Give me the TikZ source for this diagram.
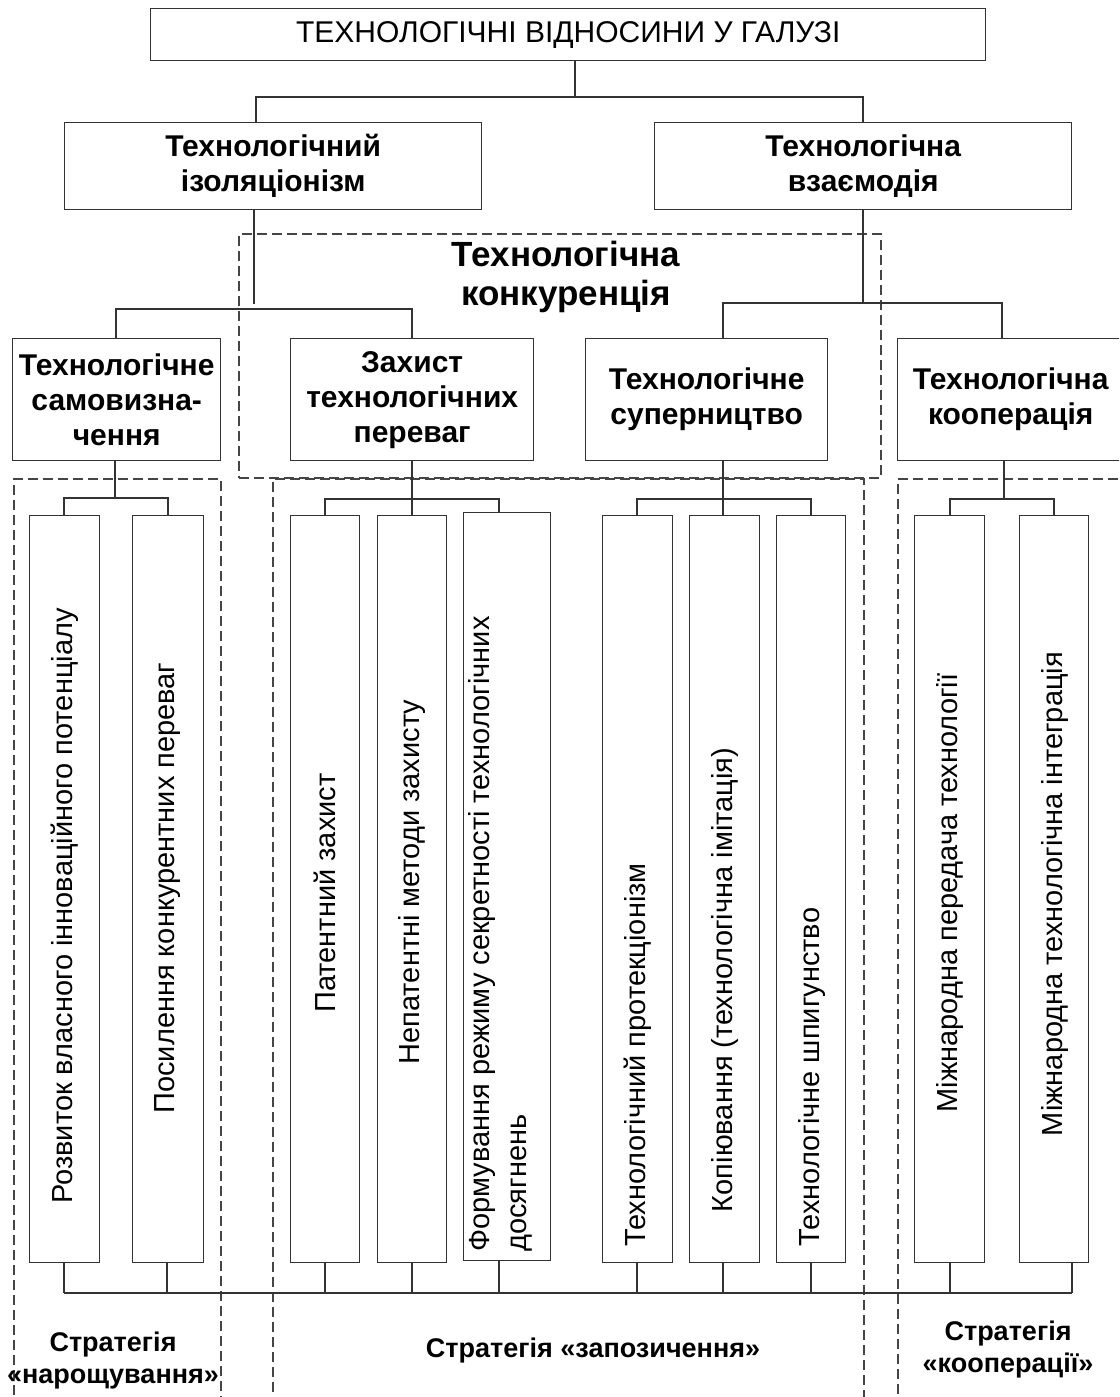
\documentclass[tikz,border=0pt]{standalone}
\usepackage{fontspec}
\setmainfont{Liberation Sans}
\usetikzlibrary{calc}
\definecolor{ln}{HTML}{333333}
\definecolor{dl}{HTML}{454545}
\begin{document}
\begin{tikzpicture}[x=1pt,y=-1pt,
  conn/.style={draw=ln, line width=1.4pt},
  boxnode/.style={draw=ln, line width=1.4pt, anchor=north west, inner sep=0pt, align=center, text=black},
  grp/.style={draw=dl, line width=2pt, dash pattern=on 10pt off 5pt, anchor=north west, inner sep=0pt},
  vtext/.style={rotate=90, inner sep=0pt, align=left, font=\fontsize{29}{37}\selectfont},
  ttl/.style={font=\fontsize{30}{34}\selectfont},
  lvtwo/.style={font=\bfseries\fontsize{30}{35}\selectfont},
  lvthree/.style={font=\bfseries\fontsize{30}{35}\selectfont},
  strat/.style={font=\bfseries\fontsize{27}{32}\selectfont, align=center, inner sep=0pt}
]
\useasboundingbox (0,0) rectangle (1119,1397);
\clip (0,0) rectangle (1119,1397);

% dashed groups
\node[grp, minimum width=642pt, minimum height=244pt] (gK) at (238,233) {};
\node[grp, minimum width=207pt, minimum height=960pt] (gN) at (13,478) {};
\node[grp, minimum width=591pt, minimum height=960pt] (gZ) at (272,478) {};
\node[grp, minimum width=260pt, minimum height=960pt] (gC) at (897,478) {};

\node[font=\bfseries\fontsize{35}{39}\selectfont, align=center, inner sep=0pt] (konk) at (566,277) {Технологічна\\конкуренція};

% level 1
\node[boxnode, ttl, minimum width=835pt, minimum height=52pt] (top) at (150,8) {ТЕХНОЛОГІЧНІ ВІДНОСИНИ У ГАЛУЗІ};

% level 2
\node[boxnode, lvtwo, minimum width=417pt, minimum height=87pt] (iso) at (64,122) {Технологічний\\ізоляціонізм};
\node[boxnode, lvtwo, minimum width=417pt, minimum height=87pt] (vz) at (654,122) {Технологічна\\взаємодія};

% level 3
\node[boxnode, lvthree, minimum width=208pt, minimum height=122pt] (A) at (12,338) {Технологічне\\самовизна-\\чення};
\node[boxnode, lvthree, minimum width=243pt, minimum height=122pt] (B) at (290,338) {Захист\\технологічних\\переваг};
\node[boxnode, lvthree, minimum width=242pt, minimum height=122pt] (C) at (585,338) {Технологічне\\суперництво};
\node[boxnode, lvthree, minimum width=226pt, minimum height=122pt] (D) at (897,338) {Технологічна\\кооперація};

% level 4 boxes
\node[boxnode, minimum width=70pt, minimum height=747pt] (n1) at (29,515) {};
\node[boxnode, minimum width=71pt, minimum height=747pt] (n2) at (132,515) {};
\node[boxnode, minimum width=69pt, minimum height=747pt] (z1) at (290,515) {};
\node[boxnode, minimum width=69pt, minimum height=747pt] (z2) at (377,515) {};
\node[boxnode, minimum width=87pt, minimum height=748pt] (z3) at (463,512) {};
\node[boxnode, minimum width=70pt, minimum height=747pt] (s1) at (602,515) {};
\node[boxnode, minimum width=70pt, minimum height=747pt] (s2) at (689,515) {};
\node[boxnode, minimum width=69pt, minimum height=747pt] (s3) at (776,515) {};
\node[boxnode, minimum width=70pt, minimum height=747pt] (k1) at (914,515) {};
\node[boxnode, minimum width=69pt, minimum height=747pt] (k2) at (1019,515) {};

% vertical texts
\node[vtext] (tn1) at (65,906) {Розвиток власного інноваційного потенціалу};
\node[vtext] (tn2) at (168,888) {Посилення конкурентних переваг};
\node[vtext] (tz1) at (325,893) {Патентний захист};
\node[vtext] (tz2) at (412,882) {Непатентні методи захисту};
\node[vtext, anchor=west] (tz3) at (500,1252) {Формування режиму секретності технологічних\\досягнень};
\node[vtext] (ts1) at (638,1055) {Технологічний протекціонізм};
\node[vtext] (ts2) at (725,980) {Копіювання (технологічна імітація)};
\node[vtext] (ts3) at (812,1077) {Технологічне шпигунство};
\node[vtext] (tk1) at (950,893) {Міжнародна передача технології};
\node[vtext] (tk2) at (1055,894) {Міжнародна технологічна інтеграція};

% strategy labels
\node[strat] (st1) at (113,1361) {Стратегія\\«нарощування»};
\node[strat] (st2) at (593,1351) {Стратегія «запозичення»};
\node[strat] (st3) at (1008,1350) {Стратегія\\«кооперації»};

% connectors level 1 -> 2
\coordinate (j1) at (575,97);
\coordinate (j1l) at (256,97);
\coordinate (j1r) at (863,97);
\draw[conn] (top.south -| j1) -- (j1);
\draw[conn] (iso.north -| j1l) -- (j1l) -- (j1r) -- (vz.north -| j1r);

% level 2 -> 3
\coordinate (j2l) at (254,304);
\coordinate (j2la) at (116,309);
\coordinate (j2lb) at (412,309);
\draw[conn] (iso.south -| j2l) -- (j2l);
\draw[conn] (A.north -| j2la) -- (j2la) -- (j2lb) -- (B.north -| j2lb);
\coordinate (j2r) at (863,303);
\coordinate (j2ra) at (723,303);
\coordinate (j2rb) at (1002,303);
\draw[conn] (vz.south -| j2r) -- (j2r);
\draw[conn] (C.north -| j2ra) -- (j2ra) -- (j2rb) -- (D.north -| j2rb);

% level 3 -> 4
\coordinate (ja) at (115,498);
\coordinate (jaa) at (64,498);
\coordinate (jab) at (168,498);
\draw[conn] (A.south -| ja) -- (ja);
\draw[conn] (n1.north -| jaa) -- (jaa) -- (jab) -- (n2.north -| jab);

\coordinate (jb) at (412,499);
\coordinate (jba) at (325,499);
\coordinate (jbc) at (499,499);
\draw[conn] (B.south -| jb) -- (z2.north -| jb);
\draw[conn] (z1.north -| jba) -- (jba) -- (jbc) -- (z3.north -| jbc);

\coordinate (jc) at (723,499);
\coordinate (jca) at (637,499);
\coordinate (jcc) at (811,499);
\draw[conn] (C.south -| jc) -- (s2.north -| jc);
\draw[conn] (s1.north -| jca) -- (jca) -- (jcc) -- (s3.north -| jcc);

\coordinate (jd) at (1004,499);
\coordinate (jda) at (950,499);
\coordinate (jdb) at (1054,499);
\draw[conn] (D.south -| jd) -- (jd);
\draw[conn] (k1.north -| jda) -- (jda) -- (jdb) -- (k2.north -| jdb);

% bottom bus
\coordinate (q1) at (64,1293);
\coordinate (q2) at (167,1293);
\coordinate (q3) at (325,1293);
\coordinate (q4) at (412,1293);
\coordinate (q5) at (499,1293);
\coordinate (q6) at (637,1293);
\coordinate (q7) at (723,1293);
\coordinate (q8) at (811,1293);
\coordinate (q9) at (950,1293);
\coordinate (q10) at (1072,1293);
\draw[conn] (q1) -- (q10);
\draw[conn] (n1.south -| q1) -- (q1);
\draw[conn] (n2.south -| q2) -- (q2);
\draw[conn] (z1.south -| q3) -- (q3);
\draw[conn] (z2.south -| q4) -- (q4);
\draw[conn] (z3.south -| q5) -- (q5);
\draw[conn] (s1.south -| q6) -- (q6);
\draw[conn] (s2.south -| q7) -- (q7);
\draw[conn] (s3.south -| q8) -- (q8);
\draw[conn] (k1.south -| q9) -- (q9);
\draw[conn] (k2.south -| q10) -- (q10);
\end{tikzpicture}
\end{document}
